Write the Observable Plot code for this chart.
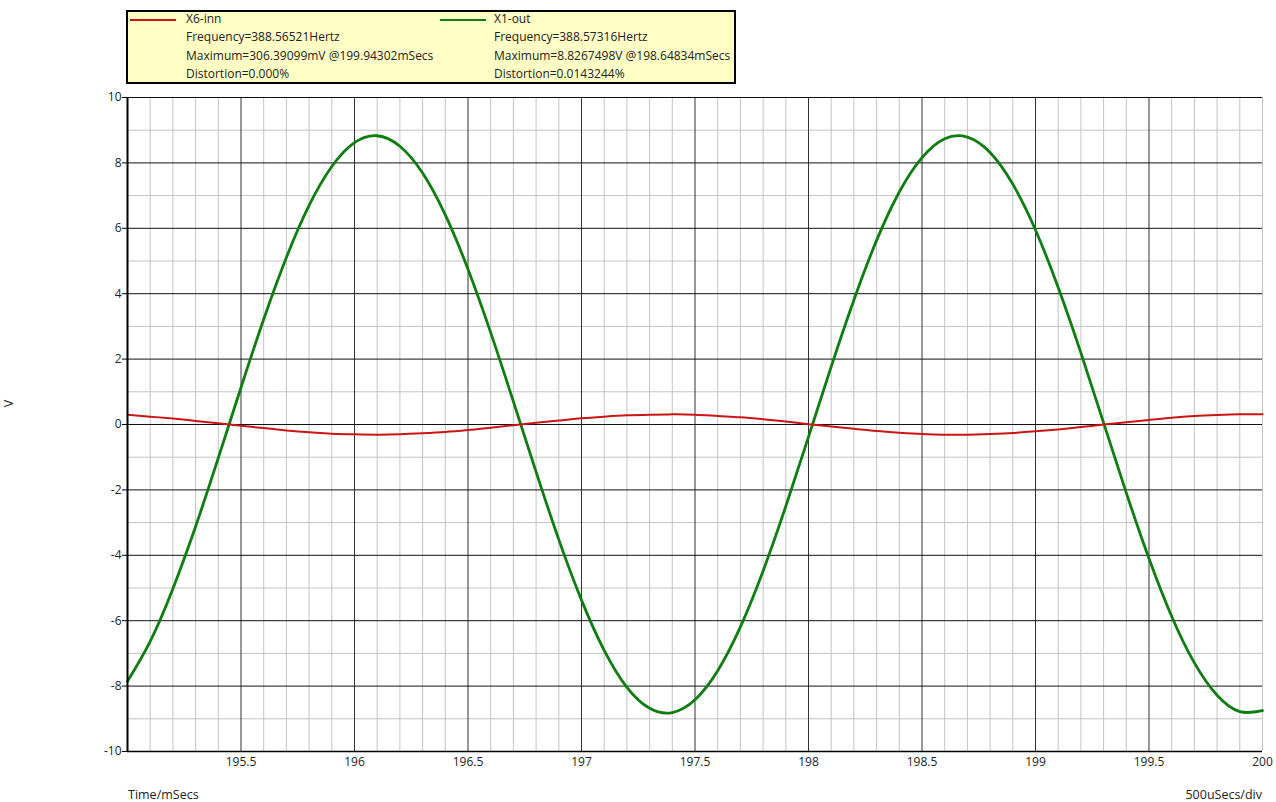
<!DOCTYPE html>
<html>
<head>
<meta charset="utf-8">
<script src="https://cdn.jsdelivr.net/npm/d3@7"></script>
<script src="https://cdn.jsdelivr.net/npm/@observablehq/plot@0.6"></script>
<style>
  html, body { margin: 0; padding: 0; background: #fff; }
  #wrap { position: relative; width: 1276px; height: 802px; font-family: "Open Sans", "Noto Sans", sans-serif; }
  #legend { position: absolute; left: 126px; top: 10px; width: 606px; height: 70px; background: #ffffc6; border: 2px solid #000; font-size: 12px; color: #222; z-index: 2; }
  .lg { position: absolute; white-space: nowrap; line-height: 14px; }
  .sw { position: absolute; height: 2px; width: 46px; }
  .lbl { position: absolute; font-size: 12.5px; color: #222; white-space: nowrap; }
</style>
</head>
<body>
<div id="wrap">
  <div id="legend"></div>
  <div id="chart"></div>
  <div class="lbl" style="left:5px; top:395px; transform: rotate(-90deg);">V</div>
  <div class="lbl" style="left:128px; top:786px;">Time/mSecs</div>
  <div class="lbl" style="right:14px; top:786px;">500uSecs/div</div>
</div>
<script>
// Time samples (ms)
const time = [195.0,195.1,195.2,195.3,195.4,195.5,195.6,195.7,195.8,195.9,
  196.0,196.1,196.2,196.3,196.4,196.5,196.6,196.7,196.8,196.9,
  197.0,197.1,197.2,197.3,197.4,197.5,197.6,197.7,197.8,197.9,
  198.0,198.1,198.2,198.3,198.4,198.5,198.6,198.7,198.8,198.9,
  199.0,199.1,199.2,199.3,199.4,199.5,199.6,199.7,199.8,199.9,200.0];
// X1-out (V)
const x1out = [-7.85,-6.63,-5.02,-3.12,-1.02,1.13,3.22,5.11,6.70,7.89,
  8.62,8.83,8.51,7.69,6.41,4.75,2.81,0.70,-1.45,-3.52,
  -5.37,-6.91,-8.04,-8.68,-8.81,-8.42,-7.53,-6.19,-4.48,-2.50,
  -0.38,1.77,3.81,5.63,7.11,8.16,8.74,8.79,8.32,7.35,
  5.95,4.19,2.19,0.05,-2.09,-4.10,-5.87,-7.29,-8.28,-8.78,-8.75];
// X6-inn (V)
const x6inn = [0.30,0.24,0.18,0.11,0.04,-0.04,-0.11,-0.18,-0.24,-0.28,
  -0.30,-0.31,-0.30,-0.27,-0.23,-0.17,-0.10,-0.02,0.05,0.12,
  0.19,0.24,0.28,0.30,0.31,0.30,0.26,0.22,0.16,0.09,
  0.01,-0.06,-0.13,-0.20,-0.25,-0.29,-0.31,-0.31,-0.29,-0.26,
  -0.21,-0.15,-0.08,0.00,0.07,0.14,0.21,0.26,0.29,0.31,0.31];
// Tick labels
const xTicks = [195.5,196,196.5,197,197.5,198,198.5,199,199.5,200];
const yTicks = [-10,-8,-6,-4,-2,0,2,4,6,8,10];
// Legend texts
const seriesNames = ["X6-inn","X1-out"];
const seriesColors = ["#cc1414","#0f7d0f"];
const legendInfo = [
  ["Frequency=388.56521Hertz","Maximum=306.39099mV @199.94302mSecs","Distortion=0.000%"],
  ["Frequency=388.57316Hertz","Maximum=8.8267498V @198.64834mSecs","Distortion=0.0143244%"]
];

const outData = time.map((t,i) => ({t, v: x1out[i]}));
const innData = time.map((t,i) => ({t, v: x6inn[i]}));

const minorX = d3.range(1,50).map(i => 195 + i*0.1).filter((v,i) => (i+1) % 5 !== 0);
const majorX = xTicks.filter(v => v < 200);
const minorY = d3.range(-9,10,2);
const majorY = yTicks;

const chart = Plot.plot({
  width: 1276,
  height: 802,
  marginLeft: 127,
  marginRight: 14,
  marginTop: 97,
  marginBottom: 51,
  style: { fontFamily: '"Open Sans", "Noto Sans", sans-serif', fontSize: "12px", color: "#222", background: "transparent" },
  x: { domain: [195, 200] },
  y: { domain: [-10, 10] },
  marks: [
    Plot.ruleX(minorX, { stroke: "#c4c4c4", strokeWidth: 1 }),
    Plot.ruleY(minorY, { stroke: "#c4c4c4", strokeWidth: 1 }),
    Plot.ruleX(majorX, { stroke: "#333", strokeWidth: 1 }),
    Plot.ruleY(majorY, { stroke: "#111", strokeWidth: 1 }),
    Plot.ruleX([200], { stroke: "#c4c4c4", strokeWidth: 1 }),
    Plot.axisY({ ticks: yTicks, tickSize: 5, tickPadding: 1, label: null, stroke: "#000", tickFormat: d => String(d) }),
    Plot.axisX({ ticks: xTicks, tickSize: 0, tickPadding: 6, label: null, tickFormat: d => String(d) }),
    Plot.line(outData, { x: "t", y: "v", stroke: seriesColors[1], strokeWidth: 2.8, curve: "natural" }),
    Plot.line(innData, { x: "t", y: "v", stroke: seriesColors[0], strokeWidth: 2, curve: "natural" }),
    Plot.ruleX([195], { stroke: "#000", strokeWidth: 2 }),
    Plot.ruleY([-10], { stroke: "#000", strokeWidth: 1.5 })
  ]
});
document.getElementById("chart").appendChild(chart);

// Legend
const lg = document.getElementById("legend");
const colX = [[2, 58], [312, 366]];
seriesNames.forEach((name, s) => {
  const sw = document.createElement("div");
  sw.className = "sw";
  sw.style.left = colX[s][0] + "px";
  sw.style.top = "7px";
  sw.style.background = seriesColors[s];
  lg.appendChild(sw);
  const rows = [name, ...legendInfo[s]];
  rows.forEach((txt, r) => {
    const d = document.createElement("div");
    d.className = "lg";
    d.style.left = colX[s][1] + "px";
    d.style.top = (0 + r * 18.3) + "px";
    d.textContent = txt;
    lg.appendChild(d);
  });
});
</script>
</body>
</html>
